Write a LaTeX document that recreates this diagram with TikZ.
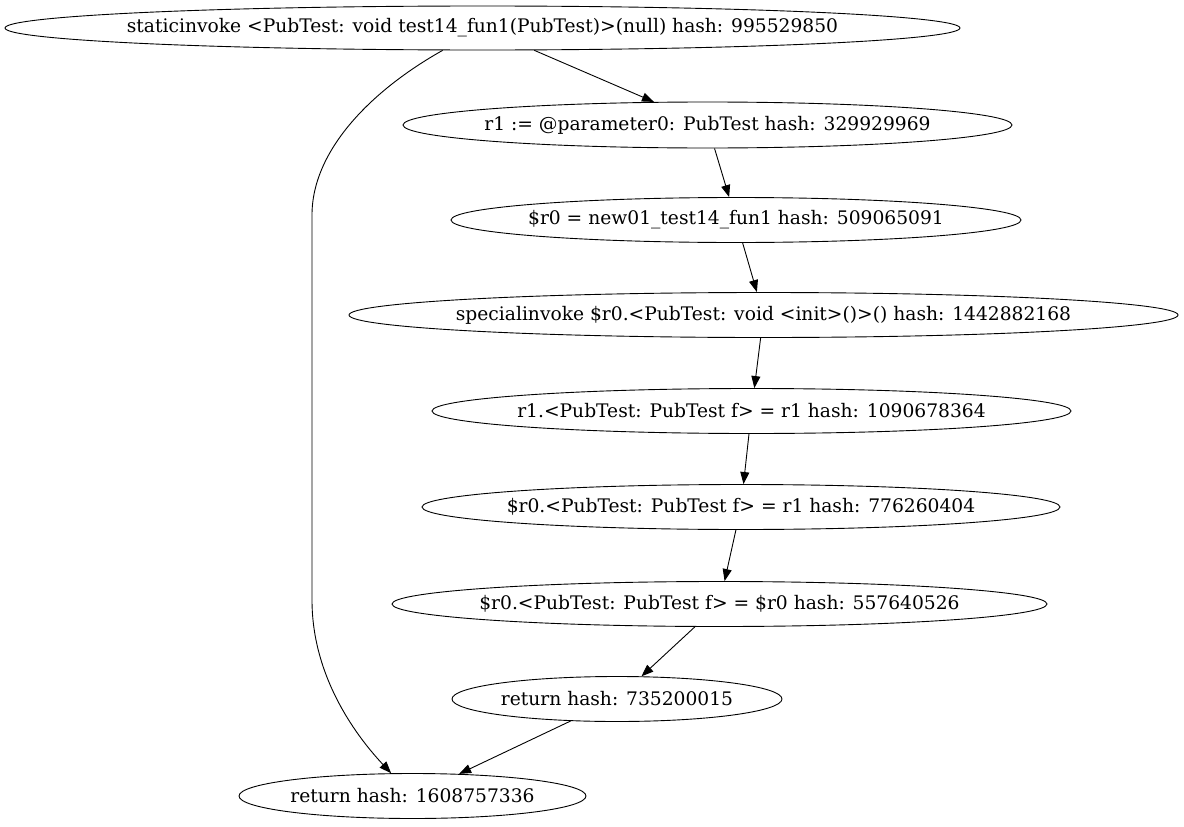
\documentclass[tikz,border=0pt]{standalone}
\usepackage{fontspec}
\setmainfont{DejaVu Serif}
\usetikzlibrary{shapes.geometric,arrows.meta}
% zero-width label so the ellipse keeps its given size
\newcommand\ctext[1]{\makebox[0pt]{#1}}
\begin{document}
\begin{tikzpicture}[x=1pt,y=-1pt,
  stmt/.style={draw=black,ellipse,inner sep=0pt,line width=0.9pt,
    font=\fontsize{18.67}{22}\selectfont},
  edge/.style={draw=black,line width=0.9pt,-{Triangle[length=12pt,width=9pt]}}]
\useasboundingbox (0,0) rectangle (1184,827);
\fill[white] (0,0) rectangle (1184,827);
% statement nodes
\node[stmt,minimum width=955pt,minimum height=44pt] (n1) at (482.5,28)
  {\ctext{staticinvoke <PubTest: void test14\_fun1(PubTest)>(null) hash: 995529850}};
\node[stmt,minimum width=609pt,minimum height=46pt] (n2) at (707.5,125)
  {\ctext{r1 := @parameter0: PubTest hash: 329929969}};
\node[stmt,minimum width=570pt,minimum height=45pt] (n3) at (736,220)
  {\ctext{\$r0 = new01\_test14\_fun1 hash: 509065091}};
\node[stmt,minimum width=829pt,minimum height=45pt] (n4) at (763.5,315)
  {\ctext{specialinvoke \$r0.<PubTest: void <init>()>() hash: 1442882168}};
\node[stmt,minimum width=639pt,minimum height=45pt] (n5) at (751.5,411)
  {\ctext{r1.<PubTest: PubTest f> = r1 hash: 1090678364}};
\node[stmt,minimum width=638pt,minimum height=45pt] (n6) at (741,507)
  {\ctext{\$r0.<PubTest: PubTest f> = r1 hash: 776260404}};
\node[stmt,minimum width=655pt,minimum height=45pt] (n7) at (719.5,604)
  {\ctext{\$r0.<PubTest: PubTest f> = \$r0 hash: 557640526}};
\node[stmt,minimum width=330pt,minimum height=45pt] (n8) at (617,699)
  {\ctext{return hash: 735200015}};
\node[stmt,minimum width=347pt,minimum height=45pt] (n9) at (412.5,796)
  {\ctext{return hash: 1608757336}};
% control flow edges
\draw[edge] (n1) -- (n2);
\draw[edge] (n2) -- (n3);
\draw[edge] (n3) -- (n4);
\draw[edge] (n4) -- (n5);
\draw[edge] (n5) -- (n6);
\draw[edge] (n6) -- (n7);
\draw[edge] (n7) -- (n8);
\draw[edge] (n8) -- (n9);
\draw[edge] (n1) .. controls (372,90) and (312,150) .. (312,215)
  -- (312,600) .. controls (312,680) and (360,740) .. (n9);
\end{tikzpicture}
\end{document}
